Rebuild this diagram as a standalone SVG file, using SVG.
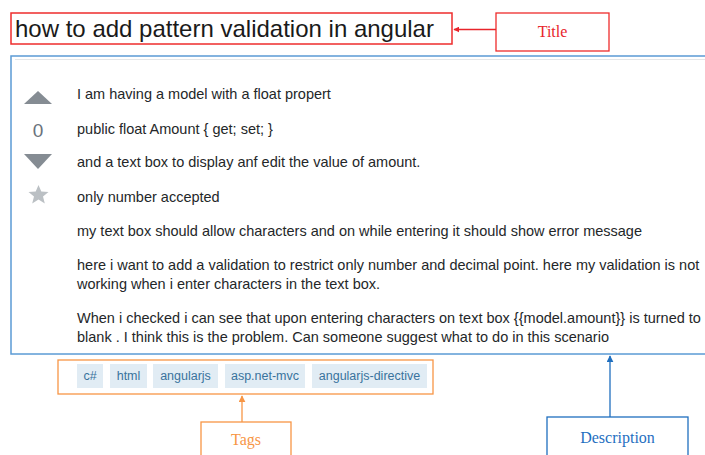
<svg xmlns="http://www.w3.org/2000/svg" width="705" height="455" viewBox="0 0 705 455">
<defs>
<style>
.body{font-family:"Liberation Sans",Arial,sans-serif;font-size:14.5px;fill:#242729}
.tagbg{fill:#e1ecf4}
.tagtx{font-family:"Liberation Sans",Arial,sans-serif;font-size:12.5px;fill:#39739d;text-anchor:middle}
.lbl{font-family:"Liberation Serif","Times New Roman",serif;font-size:16px;text-anchor:middle}
</style>
<marker id="ahRed" viewBox="0 0 10 10" refX="9" refY="5" markerWidth="6" markerHeight="6" orient="auto-start-reverse" markerUnits="userSpaceOnUse"><path d="M0,0 L10,5 L0,10 z" fill="#e8242b"/></marker>
<marker id="ahOrange" viewBox="0 0 10 10" refX="9" refY="5" markerWidth="7" markerHeight="7" orient="auto-start-reverse" markerUnits="userSpaceOnUse"><path d="M0,0 L10,5 L0,10 z" fill="#f79646"/></marker>
<marker id="ahBlue" viewBox="0 0 10 10" refX="9" refY="5" markerWidth="7" markerHeight="7" orient="auto-start-reverse" markerUnits="userSpaceOnUse"><path d="M0,0 L10,5 L0,10 z" fill="#1f6fbf"/></marker>
</defs>
<rect width="705" height="455" fill="#ffffff"/>

<g id="title">
<rect x="11" y="13" width="441" height="31" fill="none" stroke="#ee2c2c" stroke-width="1.5"/>
<text x="15" y="37" font-family="'Liberation Sans',Arial,sans-serif" font-size="24" fill="#1a1a1a">how to add pattern validation in angular</text>
</g>

<g id="title-label">
<rect x="496" y="13" width="113" height="38" fill="none" stroke="#ee2c2c" stroke-width="1.3"/>
<text class="lbl" x="552.5" y="37" fill="#e8242b">Title</text>
</g>

<g id="description">
<rect x="11" y="56" width="720" height="298" fill="none" stroke="#5b9bd5" stroke-width="1.5"/>
<line x1="15" y1="59.5" x2="705" y2="59.5" stroke="#e4e6e8" stroke-width="1.2"/>
<path d="M24,104 L38,91 L52,104 z" fill="#858c93"/>
<text x="38" y="137" font-family="'Liberation Sans',Arial,sans-serif" font-size="19" fill="#6a737c" text-anchor="middle">0</text>
<path d="M24,154 L52,154 L38,169 z" fill="#858c93"/>
<path d="M38.5,185 L41.3,191.6 L48.5,191.9 L43,196.5 L44.8,203.5 L38.5,199.6 L32.2,203.5 L34,196.5 L28.5,191.9 L35.7,191.6 z" fill="#bbc0c4"/>
<text class="body" x="77" y="99">I am having a model with a float propert</text>
<text class="body" x="77" y="134">public float Amount { get; set; }</text>
<text class="body" x="77" y="167">and a text box to display anf edit the value of amount.</text>
<text class="body" x="77" y="202">only number accepted</text>
<text class="body" x="77" y="236">my text box should allow characters and on while entering it should show error message</text>
<text class="body" x="77" y="270">here i want to add a validation to restrict only number and decimal point. here my validation is not</text>
<text class="body" x="77" y="289">working when i enter characters in the text box.</text>
<text class="body" x="77" y="323">When i checked i can see that upon entering characters on text box {{model.amount}} is turned to</text>
<text class="body" x="77" y="342">blank . I think this is the problem. Can someone suggest what to do in this scenario</text>
</g>

<g id="tags">
<rect x="58" y="360" width="375" height="34" fill="none" stroke="#f79646" stroke-width="1.3"/>
<rect class="tagbg" x="77" y="364" width="26" height="24"/>
<text class="tagtx" x="90" y="380">c#</text>
<rect class="tagbg" x="110" y="364" width="37" height="24"/>
<text class="tagtx" x="128.5" y="380">html</text>
<rect class="tagbg" x="153" y="364" width="65" height="24"/>
<text class="tagtx" x="185.5" y="380">angularjs</text>
<rect class="tagbg" x="225" y="364" width="80" height="24"/>
<text class="tagtx" x="265" y="380">asp.net-mvc</text>
<rect class="tagbg" x="312" y="364" width="115" height="24"/>
<text class="tagtx" x="369.5" y="380">angularjs-directive</text>
</g>

<g id="tags-label">
<rect x="201" y="422" width="90" height="40" fill="none" stroke="#f79646" stroke-width="1.3"/>
<text class="lbl" x="246" y="445" fill="#f79646">Tags</text>
</g>

<g id="description-label">
<rect x="547" y="417" width="141" height="45" fill="none" stroke="#1f6fbf" stroke-width="1.3"/>
<text class="lbl" x="617.5" y="443" fill="#1f6fbf">Description</text>
</g>

<g id="connectors">
<line x1="496" y1="29.5" x2="454" y2="29.5" stroke="#e8242b" stroke-width="1.3" marker-end="url(#ahRed)"/>
<line x1="242" y1="422" x2="242" y2="396" stroke="#f79646" stroke-width="1.3" marker-end="url(#ahOrange)"/>
<line x1="610" y1="417" x2="610" y2="356" stroke="#1f6fbf" stroke-width="1.3" marker-end="url(#ahBlue)"/>
</g>
</svg>
